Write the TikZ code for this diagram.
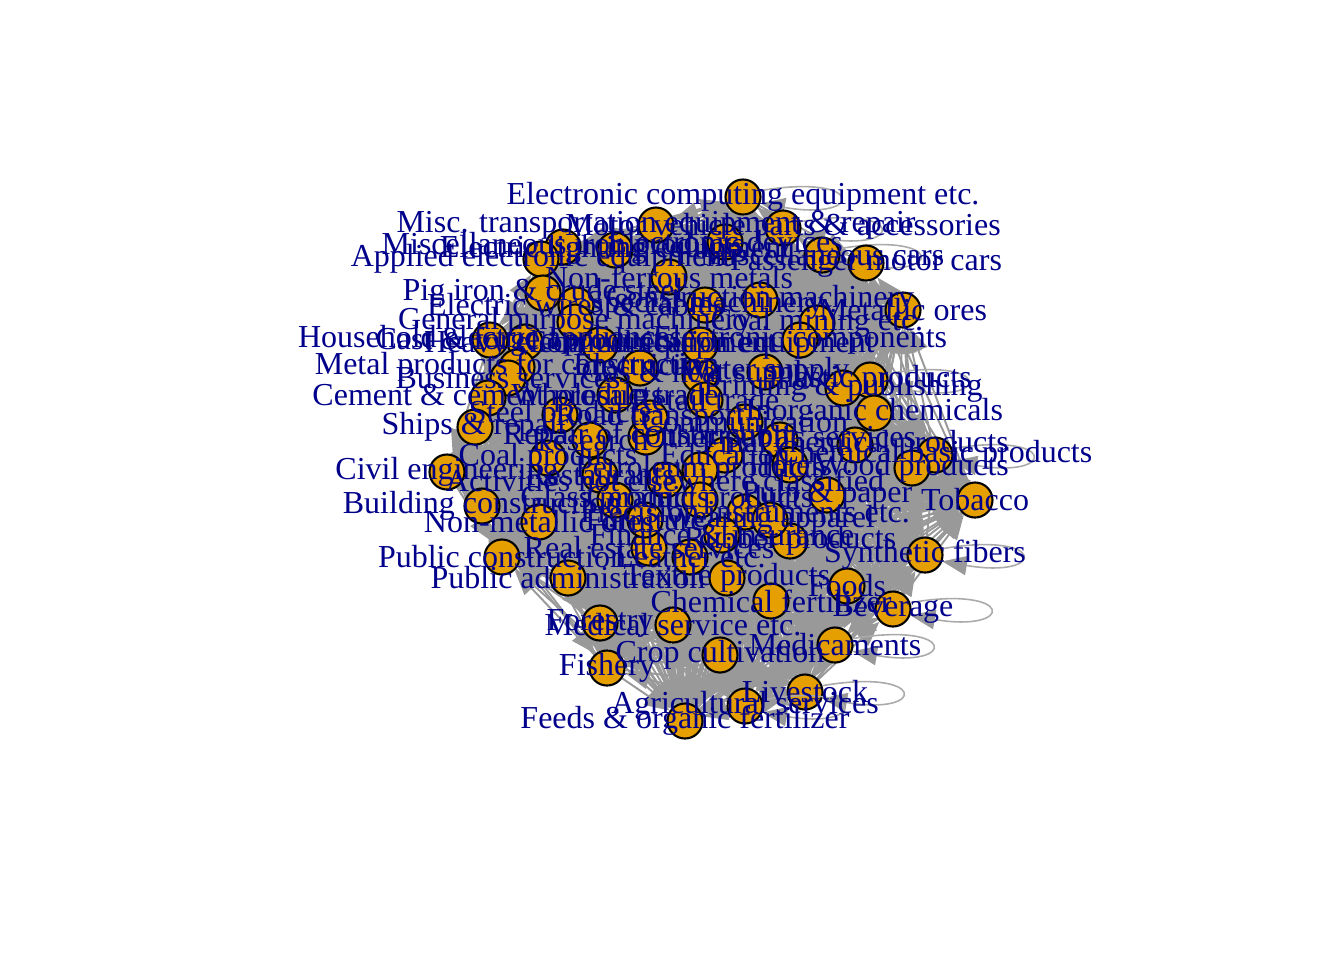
\documentclass[tikz,border=0pt]{standalone}
\usepackage{fontspec}
\setmainfont{Liberation Serif}
\usetikzlibrary{arrows.meta}
\definecolor{vorange}{HTML}{E69F00}
\definecolor{vnavy}{HTML}{00008B}
\definecolor{egray}{HTML}{999999}
\definecolor{lgray}{HTML}{AAAAAA}
\pgfdeclarelayer{edges}
\pgfsetlayers{edges,main}

% x/y/label/self loop
\def\vlist{743/197/Electronic computing equipment etc./1,
656/225/Misc. transportation equipment \& repair/0,
783/228/Motor vehicle parts \& accessories/1,
725/242/Electronic devices/0,
822/255/Miscellaneous cars/1,
866/263/Passenger motor cars/0,
563/247/Miscellaneous iron products/0,
541/259/Applied electronic equipment/0,
669/277/Non-ferrous metals/0,
543/293/Pig iron \& crude steel/0,
576/305/Electric wires \& cables/0,
705/305/Special machinery/0,
575/322/General purpose machinery/0,
903/310/Metallic ores/0,
817/323/Coal mining etc./0,
490/340/Household electric appliances/0,
525/342/Cast \& forged products/0,
800/340/Electronic components/0,
517/367/Metal products for construction/0,
508/378/Business services/0,
870/380/Plastic products/1,
843/388/Printing \& publishing/0,
488/398/Cement \& cement products/0,
874/413/Inorganic chemicals/0,
475/427/Ships \& repair/0,
560/415/Steel products/0,
780/440/Other public services/0,
935/455/Chemical basic products/1,
855/445/Final chemical products/0,
912/468/Wood products/0,
827/495/Pulp \& paper/0,
975/500/Tobacco/0,
745/512/Precision instruments etc./0,
925/555/Synthetic fibers/1,
790/541/Rubber products/0,
722/535/Finance \& insurance/0,
649/548/Real estate services/0,
690/557/Leather etc./0,
502/557/Public construction/0,
568/578/Public administration/0,
727/578/Textile products/0,
847/586/Foods/0,
771/601/Chemical fertilizer/0,
893/609/Beverage/1,
600/623/Forestry/0,
673/625/Medical service etc./0,
607/668/Fishery/0,
720/655/Crop cultivation/0,
835/645/Medicaments/1,
805/692/Livestock/1,
745/706/Agricultural services/1,
685/721/Feeds \& organic fertilizer/0,
447/472/Civil engineering/0,
482/506/Building construction/0,
539/522/Non-metallic ores/0,
548/458/Coal products/0,
665/480/Activities not elsewhere classified/0,
646/437/Repair of construction/0,
640/368/Electricity/0,
700/375/Gas \& heat supply/0,
765/372/Water supply/0,
615/395/Wholesale trade/0,
705/400/Retail trade/0,
650/418/Road transport/0,
745/422/Communication/0,
590/440/Research/0,
725/455/Education/0,
600/475/Restaurants/0,
790/465/Hotels/0,
700/470/Petroleum products/0,
615/500/Glass products/0,
700/500/Ceramic products/0,
645/520/Furniture/0,
770/520/Wearing apparel/0,
600/345/Heavy electrical equipment/0,
700/345/Communication equipment/0,
760/300/Construction machinery/0,
615/250/Electric lighting equipment/0}

\begin{document}
\begin{tikzpicture}[x=0.01cm, y=-0.01cm,
    vtx/.style={circle, draw=black, line width=0.6pt, fill=vorange, minimum size=0.35cm, inner sep=0pt},
    lbl/.style={text=vnavy, font=\fontsize{9.1}{10}\selectfont, inner sep=0pt},
    edgest/.style={draw=egray, line width=0.55pt, -{Triangle[length=7pt, width=5.5pt]}},
    loopst/.style={draw=lgray, line width=0.45pt, -{Triangle[length=7pt, width=5.5pt, color=egray]}}]

    \useasboundingbox (0,0) rectangle (1344,960);

    % vertices and self loops
    \foreach \x/\y/\lab/\lp [count=\k] in \vlist {
        \node[vtx] (v\k) at (\x,\y) {};
        \ifnum\lp=1
            \draw[loopst] (v\k.20) .. controls +(105,-18) and +(105,18) .. (v\k.-20);
        \fi
        \xdef\nv{\k}
    }

    % edges
    \begin{pgfonlayer}{edges}
    \foreach \i in {1,...,\nv} {
        \foreach \j in {1,...,\nv} {
            \ifnum\i<\j
                \ifodd\numexpr\i+\j\relax
                    \draw[edgest] (v\i) -- (v\j);
                \else
                    \draw[edgest] (v\j) -- (v\i);
                \fi
            \fi
        }
    }
    \end{pgfonlayer}

    % labels
    \foreach \x/\y/\lab/\lp [count=\k] in \vlist {
        \node[lbl] (l\k) at (\x,\y) {\lab};
    }

\end{tikzpicture}
\end{document}
